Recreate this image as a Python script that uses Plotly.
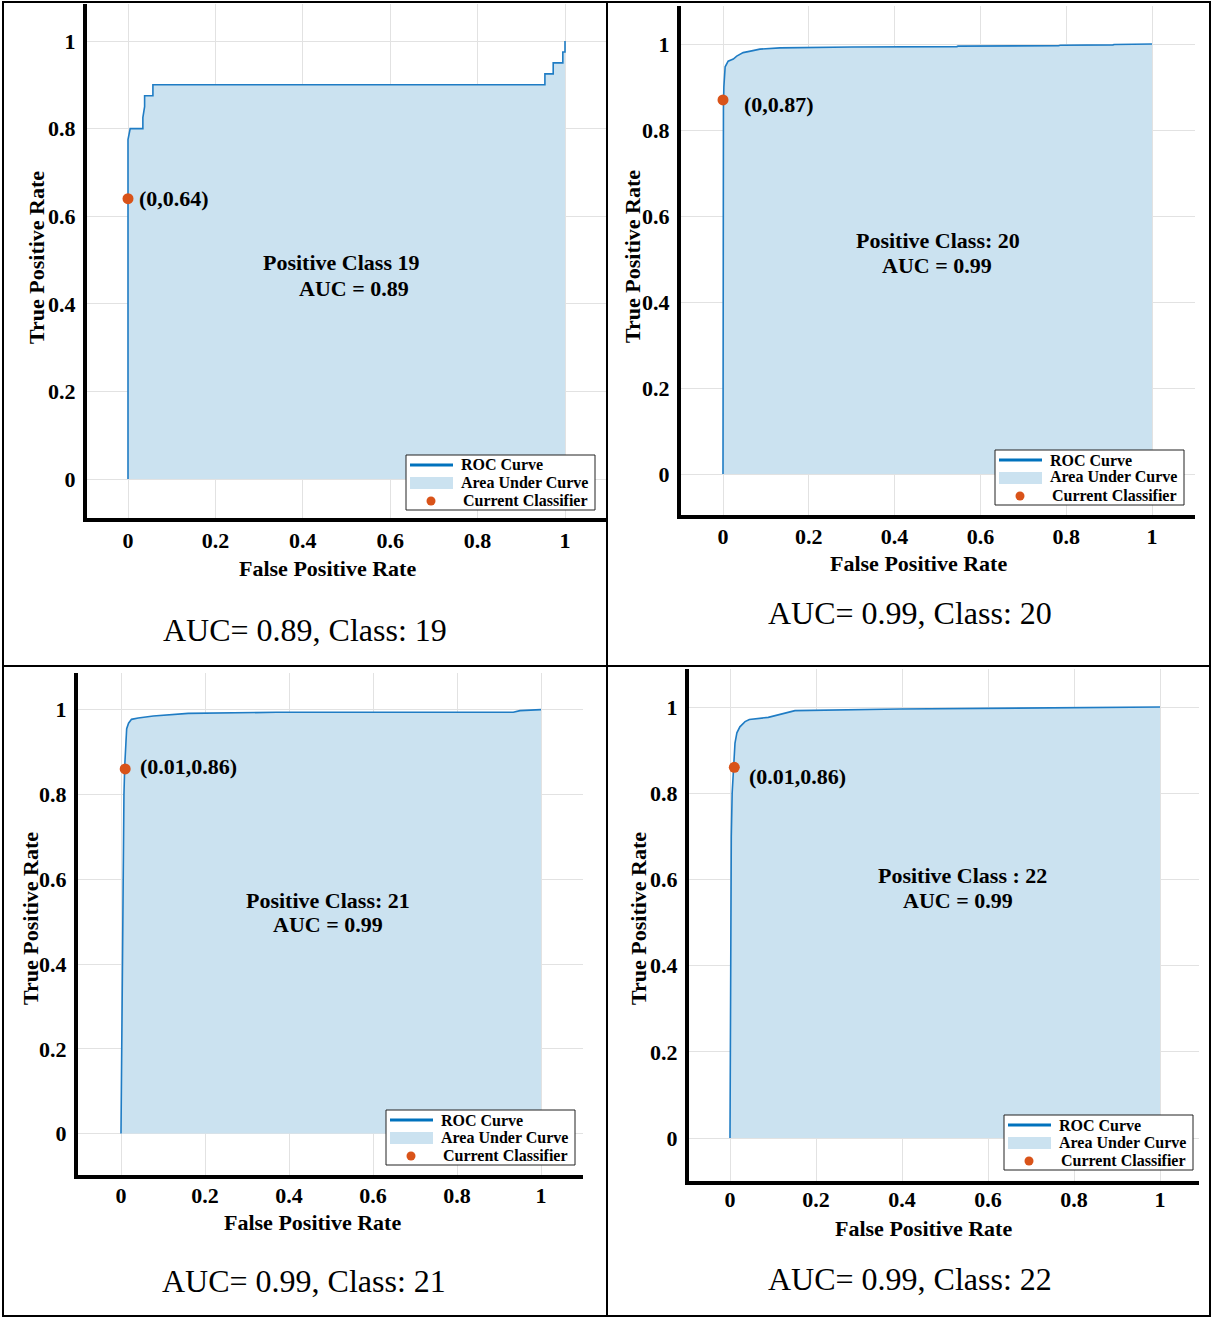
import plotly.graph_objects as go

# ---------------------------------------------------------------------------
# Data: one-vs-rest ROC curves for four classes
# ---------------------------------------------------------------------------
class_ids = [19, 20, 21, 22]
auc_values = [0.89, 0.99, 0.99, 0.99]
class_titles = ["Positive Class 19", "Positive Class: 20",
                "Positive Class: 21", "Positive Class : 22"]

# operating point of the current classifier (FPR, TPR)
op_fpr = [0.0, 0.0, 0.01, 0.01]
op_tpr = [0.64, 0.87, 0.86, 0.86]

fpr_19 = [0, 0, 0.005, 0.034, 0.034, 0.038, 0.038, 0.057, 0.057, 0.954,
          0.954, 0.973, 0.973, 0.995, 0.995, 1.0, 1.0]
tpr_19 = [0, 0.775, 0.8, 0.8, 0.825, 0.85, 0.875, 0.875, 0.9, 0.9,
          0.925, 0.925, 0.95, 0.95, 0.975, 0.975, 1.0]

fpr_20 = [0, 0, 0.001, 0.002, 0.003, 0.005, 0.012, 0.024, 0.032, 0.047,
          0.067, 0.086, 0.133, 0.30, 0.545, 0.548, 0.782, 0.786, 0.909,
          0.912, 1.0]
tpr_20 = [0, 0.6, 0.85, 0.9, 0.93, 0.947, 0.96, 0.965, 0.972, 0.98,
          0.984, 0.988, 0.991, 0.993, 0.994, 0.995, 0.996, 0.997, 0.998,
          0.999, 1.0]

fpr_21 = [0, 0.002, 0.004, 0.007, 0.009, 0.011, 0.0135, 0.018, 0.025,
          0.041, 0.077, 0.16, 0.37, 0.934, 0.95, 1.0]
tpr_21 = [0, 0.3, 0.6, 0.8, 0.87, 0.93, 0.955, 0.968, 0.977,
          0.980, 0.985, 0.991, 0.9936, 0.9936, 0.9975, 1.0]

fpr_22 = [0, 0.001, 0.003, 0.005, 0.008, 0.0116, 0.016, 0.023, 0.035,
          0.045, 0.089, 0.151, 0.395, 0.938, 0.953, 1.0]
tpr_22 = [0, 0.5, 0.7, 0.8, 0.86, 0.916, 0.94, 0.954, 0.966,
          0.971, 0.976, 0.9915, 0.9954, 0.9993, 1.0, 1.0]

fpr_curves = [fpr_19, fpr_20, fpr_21, fpr_22]
tpr_curves = [tpr_19, tpr_20, tpr_21, tpr_22]

tick_vals = [0, 0.2, 0.4, 0.6, 0.8, 1]
tick_text = ["0", "0.2", "0.4", "0.6", "0.8", "1"]

legend_labels = ["ROC Curve", "Area Under Curve", "Current Classifier"]

# ---------------------------------------------------------------------------
# Page geometry (pixels)
# ---------------------------------------------------------------------------
W, H = 1212, 1318
SERIF = "Liberation Serif, Times New Roman, serif"
LINE_BLUE = "#1f7cc4"
FILL_BLUE = "#cbe2f0"
DOT_ORANGE = "#d95319"

# plot boxes: domain edges and where data 0 / 1 fall on each axis
panels = [
    dict(left=87, right=608, top=4, bottom=518,
         x0=128, x1=565, y0=479, y1=41),
    dict(left=681, right=1195, top=6, bottom=515,
         x0=723, x1=1152, y0=474, y1=44),
    dict(left=78, right=583, top=673, bottom=1175,
         x0=121, x1=541, y0=1133.6, y1=709.6),
    dict(left=689, right=1199, top=669, bottom=1181,
         x0=730, x1=1160, y0=1138, y1=707),
]

# text placement per panel (pixels)
xtick_standoff = [0, -1, -2, -4]
ytitle_pos = [(36, 258), (632, 257), (30, 919), (638, 919)]
xtitle_pos = [(327, 568), (918, 563), (312, 1222), (923, 1228)]
caption_pos = [(305, 630), (910, 613), (304, 1281), (910, 1279)]
center_pos = [((341, 262), (354, 288)), ((938, 240), (937, 265)),
              ((328, 900), (328, 924)), ((962, 875), (958, 900))]
oplabel_shift = [(9, 0), (19, -5), (13, 2), (13, -9)]
legend_box = [(406, 455), (995, 450), (386, 1110), (1004, 1115)]
LEG_W, LEG_H = 189, 55


def px(x):
    return x / W


def py(y):
    return 1 - y / H


fig = go.Figure()
annotations = []
shapes = []

for i in range(4):
    g = panels[i]
    sfx = "" if i == 0 else str(i + 1)
    xa, ya = "x" + sfx, "y" + sfx
    sx = g["x1"] - g["x0"]
    sy = g["y0"] - g["y1"]
    xrange_ = [(g["left"] - g["x0"]) / sx, (g["right"] - g["x0"]) / sx]
    yrange_ = [(g["y0"] - g["bottom"]) / sy, (g["y0"] - g["top"]) / sy]

    axis_common = dict(
        tickvals=tick_vals, ticktext=tick_text, showgrid=True,
        gridcolor="#e2e2e2", gridwidth=1, zeroline=False, showline=True,
        linecolor="black", linewidth=4, ticks="", fixedrange=True,
        tickfont=dict(family=SERIF, size=22, color="black", weight="bold"),
    )
    fig.layout["xaxis" + sfx] = dict(
        axis_common, domain=[px(g["left"]), px(g["right"])], range=xrange_,
        anchor=ya, ticklabelstandoff=xtick_standoff[i])
    fig.layout["yaxis" + sfx] = dict(
        axis_common, domain=[py(g["bottom"]), py(g["top"])], range=yrange_,
        anchor=xa, ticklabelstandoff=3)

    fpr, tpr = fpr_curves[i], tpr_curves[i]
    # area under the curve
    fig.add_trace(go.Scatter(x=fpr, y=tpr, mode="none", fill="tozeroy",
                             fillcolor=FILL_BLUE, xaxis=xa, yaxis=ya,
                             showlegend=False, hoverinfo="skip"))
    # ROC curve
    fig.add_trace(go.Scatter(x=fpr, y=tpr, mode="lines",
                             line=dict(color=LINE_BLUE, width=1.6),
                             xaxis=xa, yaxis=ya, showlegend=False))
    # current classifier
    fig.add_trace(go.Scatter(x=[op_fpr[i]], y=[op_tpr[i]], mode="markers",
                             marker=dict(color=DOT_ORANGE, size=11),
                             xaxis=xa, yaxis=ya, showlegend=False))

    bold = dict(family=SERIF, color="black", weight="bold")

    dx, dy = oplabel_shift[i]
    annotations.append(dict(
        x=op_fpr[i], y=op_tpr[i], xref=xa, yref=ya, xanchor="left",
        yanchor="middle", xshift=dx, yshift=dy, showarrow=False,
        text=f"({op_fpr[i]:g},{op_tpr[i]:g})", font=dict(bold, size=22)))

    (c1x, c1y), (c2x, c2y) = center_pos[i]
    annotations.append(dict(
        x=px(c1x), y=py(c1y), xref="paper", yref="paper", showarrow=False,
        xanchor="center", yanchor="middle", text=class_titles[i],
        font=dict(bold, size=22)))
    annotations.append(dict(
        x=px(c2x), y=py(c2y), xref="paper", yref="paper", showarrow=False,
        xanchor="center", yanchor="middle", text=f"AUC = {auc_values[i]:.2f}",
        font=dict(bold, size=22)))

    tx, ty = xtitle_pos[i]
    annotations.append(dict(
        x=px(tx), y=py(ty), xref="paper", yref="paper", showarrow=False,
        xanchor="center", yanchor="middle", text="False Positive Rate",
        font=dict(bold, size=22)))
    tx, ty = ytitle_pos[i]
    annotations.append(dict(
        x=px(tx), y=py(ty), xref="paper", yref="paper", showarrow=False,
        xanchor="center", yanchor="middle", text="True Positive Rate",
        textangle=-90, font=dict(bold, size=22)))

    cx, cy = caption_pos[i]
    annotations.append(dict(
        x=px(cx), y=py(cy), xref="paper", yref="paper", showarrow=False,
        xanchor="center", yanchor="middle",
        text=f"AUC= {auc_values[i]:.2f}, Class: {class_ids[i]}",
        font=dict(family=SERIF, size=32, color="black")))

    # legend box
    lx, ly = legend_box[i]
    shapes.append(dict(type="rect", xref="paper", yref="paper",
                       x0=px(lx), x1=px(lx + LEG_W), y0=py(ly + LEG_H), y1=py(ly),
                       line=dict(color="#222222", width=1), fillcolor="white"))
    shapes.append(dict(type="line", xref="paper", yref="paper",
                       x0=px(lx + 4), x1=px(lx + 47), y0=py(ly + 10), y1=py(ly + 10),
                       line=dict(color="#0072bd", width=3)))
    shapes.append(dict(type="rect", xref="paper", yref="paper",
                       x0=px(lx + 4), x1=px(lx + 47), y0=py(ly + 34), y1=py(ly + 22),
                       line=dict(width=0), fillcolor=FILL_BLUE))
    shapes.append(dict(type="circle", xref="paper", yref="paper",
                       x0=px(lx + 20.5), x1=px(lx + 29.5),
                       y0=py(ly + 50.5), y1=py(ly + 41.5),
                       line=dict(width=0), fillcolor=DOT_ORANGE))
    for k, (lab, off_x, off_y) in enumerate(zip(legend_labels, [53, 53, 55],
                                                 [10, 27, 45])):
        annotations.append(dict(
            x=px(lx + off_x), y=py(ly + off_y), xref="paper", yref="paper",
            showarrow=False, xanchor="left", yanchor="middle", text=lab,
            font=dict(bold, size=16)))

# table frame around the four panels
for xv in (3, 607, 1210):
    shapes.append(dict(type="line", xref="paper", yref="paper",
                       x0=px(xv), x1=px(xv), y0=py(1317), y1=py(1),
                       line=dict(color="black", width=2)))
for yv in (2, 666, 1316):
    shapes.append(dict(type="line", xref="paper", yref="paper",
                       x0=px(2), x1=px(1211), y0=py(yv), y1=py(yv),
                       line=dict(color="black", width=2)))

fig.update_layout(
    width=W, height=H, margin=dict(l=0, r=0, t=0, b=0),
    paper_bgcolor="white", plot_bgcolor="white",
    annotations=annotations, shapes=shapes, showlegend=False,
    font=dict(family=SERIF, color="black"),
)

fig.write_html("out.html")
